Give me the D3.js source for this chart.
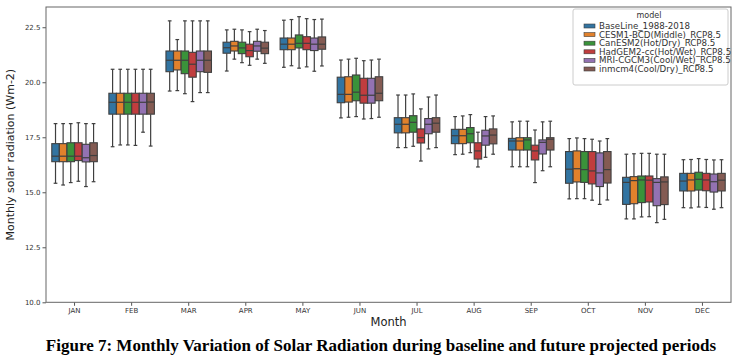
<!DOCTYPE html>
<html><head><meta charset="utf-8">
<script src="https://cdn.jsdelivr.net/npm/d3@7"></script>
<style>body{margin:0;background:#fff}svg{display:block}</style>
</head><body><svg id="c" width="742" height="364"></svg>
<script>
const months = ["JAN","FEB","MAR","APR","MAY","JUN","JUL","AUG","SEP","OCT","NOV","DEC"];
const models = ["BaseLine_1988-2018","CESM1-BCD(Middle)_RCP8.5","CanESM2(Hot/Dry)_RCP8.5","HadGEM2-cc(Hot/Wet)_RCP8.5","MRI-CGCM3(Cool/Wet)_RCP8.5","inmcm4(Cool/Dry)_RCP8.5"];
const colors = ["#3274a1","#e1812c","#3a923a","#c03d3e","#9372b2","#845b53"];
const yTicks = [10.0,12.5,15.0,17.5,20.0,22.5];
// each entry: [whiskerLow, q1, median, q3, whiskerHigh]
const baseline = [[15.41,16.39,16.64,17.21,18.12],[17.07,18.55,19.09,19.50,20.59],[19.60,20.48,21.00,21.42,22.79],[20.51,21.32,21.57,21.82,22.38],[20.68,21.48,21.73,22.01,22.82],[18.38,19.07,19.45,20.23,21.01],[17.03,17.70,18.09,18.39,19.42],[16.71,17.21,17.57,17.86,18.44],[16.16,16.92,17.33,17.45,18.20],[14.70,15.41,16.05,16.85,17.44],[13.79,14.45,15.45,15.68,16.73],[14.30,15.06,15.51,15.86,16.48]];
const cesm1 = [[15.33,16.39,16.64,17.21,18.12],[17.15,18.55,19.09,19.50,20.59],[19.62,20.56,21.00,21.42,21.94],[21.05,21.42,21.65,21.86,22.41],[20.75,21.48,21.73,22.01,22.85],[18.41,19.10,19.45,20.25,21.05],[17.03,17.70,18.09,18.39,19.42],[16.73,17.21,17.57,17.86,18.47],[16.16,16.92,17.33,17.48,18.23],[14.71,15.47,16.07,16.88,17.47],[13.79,14.48,15.53,15.71,16.75],[14.29,15.06,15.56,15.86,16.49]];
const canesm2 = [[15.44,16.39,16.64,17.25,18.12],[17.15,18.55,19.09,19.50,20.59],[19.48,20.39,21.00,21.42,22.79],[20.89,21.30,21.56,21.82,22.38],[20.64,21.56,21.77,22.15,22.98],[18.44,19.16,19.55,20.33,21.09],[17.09,17.73,18.18,18.48,19.47],[16.80,17.25,17.66,17.94,18.53],[16.16,16.92,17.38,17.48,18.23],[14.71,15.45,16.03,16.85,17.44],[13.88,14.53,15.56,15.74,16.77],[14.33,15.10,15.59,15.91,16.53]];
const hadgem2 = [[15.50,16.44,16.64,17.25,18.16],[17.13,18.55,19.09,19.50,20.59],[19.12,20.23,20.82,21.36,22.79],[20.77,21.16,21.44,21.73,22.30],[20.70,21.48,21.77,22.07,22.89],[18.33,19.05,19.41,20.18,20.98],[16.42,17.24,17.48,17.88,18.79],[16.15,16.51,16.88,17.25,17.73],[15.44,16.47,16.88,17.14,17.83],[14.64,15.38,15.97,16.85,17.41],[13.89,14.56,15.55,15.74,16.77],[14.31,15.07,15.56,15.86,16.49]];
const mri = [[15.26,16.38,16.57,17.18,18.12],[17.73,18.55,19.09,19.50,20.59],[19.53,20.48,21.00,21.42,22.79],[21.05,21.41,21.65,21.86,22.41],[20.50,21.44,21.73,22.01,22.85],[18.35,19.05,19.41,20.18,21.01],[16.97,17.66,18.09,18.35,19.33],[16.59,17.14,17.56,17.82,18.44],[15.98,16.74,17.27,17.38,18.20],[14.45,15.26,15.88,16.79,17.33],[13.62,14.39,15.45,15.62,16.73],[14.23,15.01,15.48,15.83,16.47]];
const inmcm4 = [[15.48,16.39,16.67,17.25,18.12],[17.10,18.55,19.10,19.50,20.59],[19.53,20.45,21.00,21.42,22.79],[20.86,21.30,21.55,21.82,22.35],[20.74,21.50,21.73,22.06,22.87],[18.41,19.16,19.50,20.25,21.05],[17.03,17.73,18.14,18.39,19.42],[16.73,17.20,17.60,17.88,18.47],[16.16,16.92,17.41,17.48,18.23],[14.65,15.42,16.03,16.85,17.44],[13.77,14.44,15.47,15.70,16.73],[14.30,15.06,15.55,15.86,16.48]];
const series = [baseline, cesm1, canesm2, hadgem2, mri, inmcm4];

const svg = d3.select("#c");
const L = 46, R = 731, T = 7, B = 302.3;
const x = d3.scaleBand().domain(months).range([L, R]).paddingInner(0.2).paddingOuter(0.1);
const xi = d3.scaleBand().domain(models).range([0, x.bandwidth()]);
const y = d3.scaleLinear().domain([10, 23.42]).range([B, T]);
const lineCol = "#3f3f3f";

// boxes
const bw = xi.bandwidth() * 0.98;
const capW = bw * 0.5;
series.forEach((s, mi) => {
  const g = svg.append("g");
  s.forEach((d, k) => {
    const cx = x(months[k]) + xi(models[mi]) + xi.bandwidth() / 2;
    const [lo, q1, med, q3, hi] = d;
    g.append("line").attr("x1", cx).attr("x2", cx).attr("y1", y(q3)).attr("y2", y(hi)).attr("stroke", lineCol).attr("stroke-width", 1.2);
    g.append("line").attr("x1", cx).attr("x2", cx).attr("y1", y(q1)).attr("y2", y(lo)).attr("stroke", lineCol).attr("stroke-width", 1.2);
    g.append("line").attr("x1", cx - capW/2).attr("x2", cx + capW/2).attr("y1", y(hi)).attr("y2", y(hi)).attr("stroke", lineCol).attr("stroke-width", 1.2);
    g.append("line").attr("x1", cx - capW/2).attr("x2", cx + capW/2).attr("y1", y(lo)).attr("y2", y(lo)).attr("stroke", lineCol).attr("stroke-width", 1.2);
    g.append("rect").attr("x", cx - bw/2).attr("width", bw).attr("y", y(q3)).attr("height", y(q1) - y(q3))
      .attr("fill", colors[mi]).attr("stroke", lineCol).attr("stroke-width", 1.1);
    g.append("line").attr("x1", cx - bw/2).attr("x2", cx + bw/2).attr("y1", y(med)).attr("y2", y(med)).attr("stroke", lineCol).attr("stroke-width", 1.2);
  });
});

// axes
const yAxis = d3.axisLeft(y).tickValues(yTicks).tickFormat(d3.format(".1f")).tickSize(3.5).tickSizeOuter(0);
const gy = svg.append("g").attr("transform", `translate(${L},0)`).call(yAxis);
const xAxis = d3.axisBottom(x).tickSize(3.5).tickSizeOuter(0);
const gx = svg.append("g").attr("transform", `translate(0,${B})`).call(xAxis);
[gy, gx].forEach(g => {
  g.select(".domain").remove();
  g.selectAll(".tick line").attr("stroke", "#555");
  g.selectAll(".tick text").attr("font-family", "DejaVu Sans").attr("font-size", 7).attr("fill", "#333");
});
gy.selectAll(".tick text").attr("x", -5.5);
gx.selectAll(".tick text").attr("y", 6);

// frame
svg.append("rect").attr("x", L).attr("y", T).attr("width", R - L).attr("height", B - T)
  .attr("fill", "none").attr("stroke", "#666").attr("stroke-width", 1);

// axis labels
svg.append("text").attr("transform", `translate(14,${(T + B) / 2}) rotate(-90)`).attr("text-anchor", "middle")
  .attr("font-family", "DejaVu Sans").attr("font-size", 11).attr("fill", "#222").text("Monthly solar radiation (Wm-2)");
svg.append("text").attr("x", (L + R) / 2).attr("y", 326).attr("text-anchor", "middle")
  .attr("font-family", "DejaVu Sans").attr("font-size", 11.5).attr("fill", "#222").text("Month");

// legend
const lg = svg.append("g");
lg.append("rect").attr("x", 573).attr("y", 9).attr("width", 155).attr("height", 76).attr("rx", 2)
  .attr("fill", "#fff").attr("fill-opacity", 0.8).attr("stroke", "#ccc");
lg.append("text").attr("x", 649).attr("y", 18).attr("text-anchor", "middle").attr("font-family", "DejaVu Sans")
  .attr("font-size", 8).attr("fill", "#333").text("model");
models.forEach((m, i) => {
  const yy = 26 + i * 8.6;
  lg.append("rect").attr("x", 584).attr("y", yy - 2).attr("width", 11).attr("height", 4)
    .attr("fill", colors[i]).attr("stroke", lineCol).attr("stroke-width", 0.6);
  lg.append("text").attr("x", 599).attr("y", yy + 3).attr("font-family", "DejaVu Sans").attr("font-size", 8.7)
    .attr("fill", "#333").text(m);
});

// caption
svg.append("text").attr("x", 381).attr("y", 351).attr("text-anchor", "middle")
  .attr("font-family", "Liberation Serif").attr("font-weight", "bold").attr("font-size", 17).attr("fill", "#000")
  .text("Figure 7: Monthly Variation of Solar Radiation during baseline and future projected periods");
</script>
</body></html>
